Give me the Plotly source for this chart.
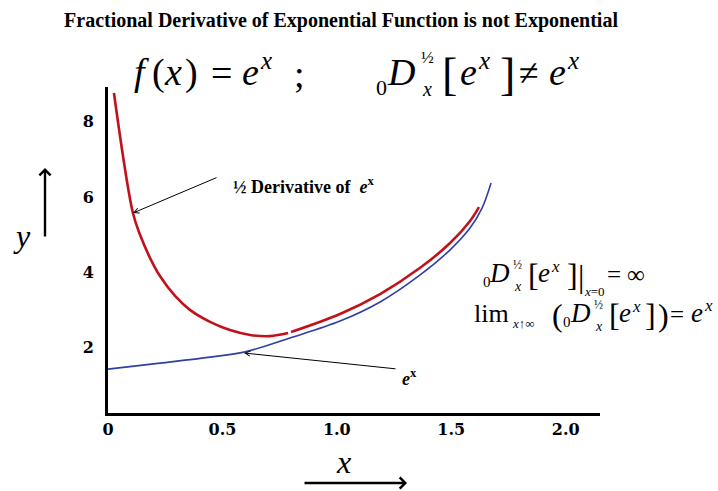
import plotly.graph_objects as go

# e^x reference curve
exp_x = [0.0, 0.227, 0.446, 0.599, 0.795, 1.014, 1.189, 1.364, 1.495, 1.582, 1.635, 1.674]
exp_y = [1.41, 1.57, 1.73, 1.87, 2.24, 2.69, 3.20, 3.92, 4.59, 5.17, 5.71, 6.37]

# half-order derivative of e^x (small break in the stroke near the minimum)
half_x = [0.026, 0.109, 0.140, 0.184, 0.227, 0.293, 0.358, 0.446, 0.533, 0.621, 0.708, 0.787, None,
          0.800, 1.014, 1.189, 1.364, 1.495, 1.582, 1.621]
half_y = [8.77, 5.57, 4.99, 4.37, 3.89, 3.36, 2.99, 2.67, 2.45, 2.32, 2.29, 2.37, None,
          2.40, 2.88, 3.41, 4.11, 4.77, 5.36, 5.73]

x_ticks = [0, 0.5, 1.0, 1.5, 2.0]
x_tick_text = ["0", "0.5", "1.0", "1.5", "2.0"]
y_ticks = [2, 4, 6, 8]
y_tick_text = ["2", "4", "6", "8"]

W, H = 718, 491
L, R, T, B = 108, 118, 87, 78
PW, PH = W - L - R, H - T - B

SERIF = "Liberation Serif"
TICK_FONT = dict(family="DejaVu Serif", size=16, color="black", weight="bold")


def paper(px, py):
    return (px - L) / PW, (H - B - py) / PH


def bold(labels):
    return ["<b>%s</b>" % s for s in labels]


fig = go.Figure()
fig.add_trace(go.Scatter(x=exp_x, y=exp_y, mode="lines", line=dict(color="#2f3fa6", width=1.6, shape="spline"),
                         hoverinfo="skip", showlegend=False))
fig.add_trace(go.Scatter(x=half_x, y=half_y, mode="lines", line=dict(color="#c1121c", width=2.6, shape="spline"),
                         connectgaps=False, hoverinfo="skip", showlegend=False))

annotations = []


def text(px, py, s, size, anchor="left", family=SERIF, weight="normal"):
    x, y = paper(px, py)
    annotations.append(dict(xref="paper", yref="paper", x=x, y=y, text=s, showarrow=False,
                            xanchor=anchor, yanchor="middle", borderpad=0,
                            font=dict(family=family, size=size, color="black", weight=weight)))


def pieces(items):
    for px, py, s, size in items:
        text(px, py, s, size)


def arrow(hx, hy, tx, ty, width=1.0, head=5, size=1.0):
    annotations.append(dict(xref="paper", yref="paper", x=hx, y=hy, ax=tx, ay=ty, axref="pixel", ayref="pixel",
                            text="", showarrow=True, arrowhead=head, arrowsize=size, arrowwidth=width,
                            arrowcolor="black", standoff=0, startstandoff=0))


IX = "<i>x</i>"
IE = "<i>e</i>"

# headline formula:  f(x) = e^x ;   0D_x^(1/2)[e^x] != e^x
pieces([
    (133, 72, "<i>f</i>", 38), (151, 72, "(", 38), (163, 72, IX, 38), (184, 72, ")", 38),
    (210, 73, "=", 38), (241, 72, IE, 38), (259, 60, IX, 25), (293, 74, ";", 38),
    (375, 87, "0", 22), (386, 72, "<i>D</i>", 38), (420, 57, "½", 17), (421, 89, IX, 20),
    (441, 74, "[", 46), (459, 72, IE, 38), (477, 60, IX, 25), (499, 74, "]", 46),
    (518, 73, "≠", 36), (548, 72, IE, 38), (566, 60, IX, 25),
])

# right-hand notes
pieces([
    (482, 282, "0", 15), (488, 273, "<i>D</i>", 27), (512, 265, "½", 12), (513, 286, IX, 14),
    (527, 275, "[", 32), (537, 273, IE, 27), (550, 266, IX, 17), (566, 275, "]", 32),
    (577, 276, "|", 32), (583, 291, "<i>x</i>=0", 13), (606, 274, "=", 25), (626, 274, "∞", 25),
    (473, 313, "lim", 26), (511, 323, "<i>x</i>↑∞", 13), (551, 315, "(", 32),
    (562, 322, "0", 15), (569, 313, "<i>D</i>", 27), (593, 305, "½", 12), (594, 326, IX, 14),
    (608, 315, "[", 32), (618, 313, IE, 27), (631, 306, IX, 17), (644, 315, "]", 32),
    (657, 315, ")", 32), (669, 314, "=", 25), (690, 313, IE, 27), (703, 305, IX, 17),
])

# curve labels with pointers
text(232, 185, "½ Derivative of  <i>e</i><sup>x</sup>", 18, weight="bold")
text(401, 377, "<i>e</i><sup>x</sup>", 18, weight="bold")
arrow(*paper(133, 213), 218 - 133, 177 - 213)
arrow(*paper(244, 353), 397 - 244, 369 - 353)

# axis names with direction arrows
text(12, 236, "<i>y</i>", 32)
arrow(*paper(45, 168), 0, 70, width=2.4, head=4, size=0.9)
text(335, 462, "<i>x</i>", 32)
arrow(*paper(407, 483), -104, 0, width=2.4, head=4, size=0.9)

axis_common = dict(showgrid=False, zeroline=False, showline=True, linecolor="black", linewidth=3,
                   ticks="", tickfont=TICK_FONT, fixedrange=True)

fig.update_layout(
    width=W, height=H,
    margin=dict(l=L, r=R, t=T, b=B),
    paper_bgcolor="white", plot_bgcolor="white",
    title=dict(text="<b>Fractional Derivative of Exponential Function is not Exponential</b>",
               x=341 / W, y=1 - 20 / H, xref="container", yref="container",
               xanchor="center", yanchor="middle",
               font=dict(family=SERIF, size=20, color="black")),
    xaxis=dict(range=[0, 2.15], tickvals=x_ticks, ticktext=bold(x_tick_text), **axis_common),
    yaxis=dict(range=[0.24, 8.93], tickvals=y_ticks, ticktext=bold(y_tick_text), ticklabelstandoff=8,
               **axis_common),
    annotations=annotations,
)

fig.write_html("out.html")
